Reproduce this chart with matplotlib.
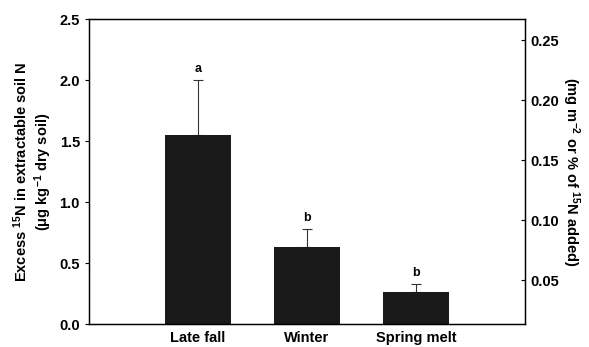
import numpy as np
import matplotlib.pyplot as plt

plt.rcParams['font.family'] = ['Liberation Sans', 'DejaVu Sans']
plt.rcParams['font.weight'] = 'bold'
plt.rcParams['mathtext.fontset'] = 'custom'
plt.rcParams['mathtext.rm'] = 'Liberation Sans:bold'
plt.rcParams['mathtext.it'] = 'Liberation Sans:bold'
plt.rcParams['mathtext.bf'] = 'Liberation Sans:bold'

seasons = ["Late fall", "Winter", "Spring melt"]
excess_n = [1.55, 0.63, 0.26]
err_up = [0.45, 0.15, 0.07]
letters = ["a", "b", "b"]

fig = plt.figure(figsize=(5.89, 3.47), dpi=100)
ax = fig.add_axes([0.151, 0.066, 0.740, 0.879])

x = np.arange(1, len(seasons) + 1)
ax.bar(x, excess_n, width=0.6, color="#1a1a1a", zorder=2)
ax.errorbar(x, excess_n, yerr=[np.zeros(len(x)), err_up], fmt="none",
            ecolor="#333333", elinewidth=0.8, capsize=3.5, capthick=0.8, zorder=1)
for xi, v, e, lab in zip(x, excess_n, err_up, letters):
    ax.text(xi, v + e + 0.04, lab, ha="center", va="bottom", fontsize=9,
            fontweight="bold")

ax.set_xlim(0, 4)
ax.set_ylim(0, 2.5)
ax.set_xticks(x)
ax.set_xticklabels(seasons)
ax.tick_params(axis="x", length=0, pad=5, labelsize=10.5)
ax.set_yticks(np.arange(0, 2.51, 0.5))
ax.set_yticklabels([f"{v:.1f}" for v in np.arange(0, 2.51, 0.5)])
ax.tick_params(axis="y", direction="out", length=3, labelsize=10.5, width=0.8)
ax.set_ylabel("Excess $^{15}$N in extractable soil N\n($\\mu$g kg$^{-1}$ dry soil)",
              fontsize=10.5, fontweight="bold", labelpad=4, linespacing=1.15)
for s in ax.spines.values():
    s.set_linewidth(1.0)

ax2 = ax.twinx()
ax2.set_ylim(0.0133, 0.2675)
ax2.set_yticks([0.05, 0.10, 0.15, 0.20, 0.25])
ax2.set_yticklabels(["0.05", "0.10", "0.15", "0.20", "0.25"])
ax2.tick_params(axis="y", direction="in", length=3, labelsize=10.5, width=0.8, pad=4)
ax2.set_ylabel("(mg m$^{-2}$ or % of $^{15}$N added)", rotation=270,
               fontsize=10.5, fontweight="bold", labelpad=16)

fig.savefig("out.png", dpi=100)
